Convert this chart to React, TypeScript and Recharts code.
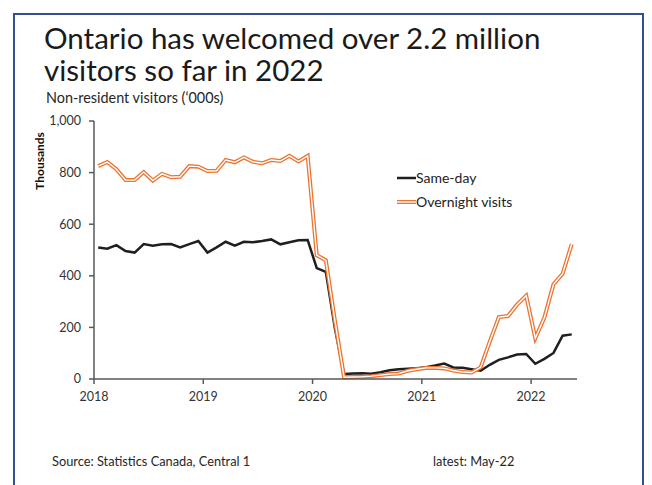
import React from 'react';
import { LineChart, Line, XAxis, YAxis } from 'recharts';

// Monthly non-resident visitors to Ontario ('000s), Jan 2018 - May 2022
const startYear = 2018;
const sameDay = [
  510, 505, 519, 496, 490, 523, 517, 522, 523, 510, 523, 535,
  490, 510, 532, 517, 532, 530, 535, 541, 522, 530, 538, 539,
  430, 415, 195, 19, 21, 22, 20, 26, 34, 38, 40, 42,
  46, 52, 60, 45, 44, 38, 32, 55, 74, 84, 95, 97,
  59, 78, 101, 168, 173,
];
const overnight = [
  825, 841, 813, 771, 771, 802, 769, 795, 782, 784, 825, 823,
  806, 807, 849, 840, 859, 842, 836, 849, 845, 865, 843, 865,
  480, 460, 225, 7, 8, 9, 11, 15, 19, 21, 32, 38,
  43, 43, 41, 33, 27, 25, 45, 145, 240, 244, 288, 323,
  158, 238, 367, 408, 523,
];
const yearTicks = [2018, 2019, 2020, 2021, 2022];
const valueTicks = [0, 200, 400, 600, 800, 1000];
const seriesNames = ['Same-day', 'Overnight visits'];

const data = sameDay.map((v, i) => ({
  t: startYear + i / 12 + 14 / 365,
  sameDay: v,
  overnight: overnight[i],
}));

const FONT = 'Lato, "Liberation Sans", sans-serif';
const ORANGE = '#EC7430';
const BLACK = '#1f1f1f';
const AXIS = '#595959';

export default function App() {
  return (
    <div style={{ position: 'absolute', left: 0, top: 0, width: 652, height: 485, background: '#fff', overflow: 'hidden' }}>
      <div style={{ position: 'absolute', left: 13, top: 13, width: 627, height: 500, border: '2.5px solid #2F5191' }} />
      <div style={{ position: 'absolute', left: 44, top: 23, fontFamily: FONT, fontSize: 29.5, lineHeight: '29px', color: '#1a1a1a', whiteSpace: 'nowrap' }}>
        <div style={{ height: 32 }}>Ontario has welcomed over 2.2 million</div>
        <div style={{ height: 29 }}>visitors so far in 2022</div>
      </div>
      <div style={{ position: 'absolute', left: 46, top: 90, fontFamily: FONT, fontSize: 14.4, lineHeight: '15px', color: '#262626', whiteSpace: 'nowrap' }}>
        Non-resident visitors (‘000s)
      </div>
      <div style={{ position: 'absolute', left: 2, top: 154, width: 76, textAlign: 'center', transform: 'rotate(-90deg)', fontFamily: FONT, fontSize: 12, fontWeight: 700, color: '#111', lineHeight: '14px' }}>
        Thousands
      </div>
      <div style={{ position: 'absolute', left: 0, top: 0 }}>
        <LineChart width={652} height={485} data={data} margin={{ top: 121, right: 75, bottom: 76, left: 34 }}>
          <XAxis
            dataKey="t"
            type="number"
            domain={[2018, 2022.42]}
            ticks={yearTicks}
            tickFormatter={(v: number) => String(Math.round(v))}
            allowDataOverflow
            height={30}
            stroke={AXIS}
            strokeWidth={1.5}
            tickSize={5}
            tickMargin={8}
            tick={{ fill: '#333', fontSize: 12.5, fontFamily: FONT }}
          />
          <YAxis
            type="number"
            domain={[0, 1000]}
            ticks={valueTicks}
            tickFormatter={(v: number) => v.toLocaleString('en-US')}
            width={60}
            stroke={AXIS}
            strokeWidth={1.5}
            tickSize={5}
            tickMargin={8}
            tick={{ fill: '#333', fontSize: 12.5, fontFamily: FONT }}
          />
          <Line dataKey="sameDay" name={seriesNames[0]} stroke={BLACK} strokeWidth={2.5} dot={false} isAnimationActive={false} />
          <Line dataKey="overnight" name={seriesNames[1]} stroke={ORANGE} strokeWidth={4} dot={false} isAnimationActive={false} />
          <Line dataKey="overnight" name="overnight-inner" stroke="#ffffff" strokeWidth={1.4} dot={false} isAnimationActive={false} />
        </LineChart>
      </div>
      <div style={{ position: 'absolute', left: 397, top: 167, fontFamily: FONT, fontSize: 14, color: '#222' }}>
        <div style={{ display: 'flex', alignItems: 'center', height: 21 }}>
          <svg width={19} height={6}>
            <line x1={0} y1={3} x2={19} y2={3} stroke={BLACK} strokeWidth={2.5} />
          </svg>
          <span>{seriesNames[0]}</span>
        </div>
        <div style={{ display: 'flex', alignItems: 'center', height: 21, marginTop: 3 }}>
          <svg width={19} height={6}>
            <line x1={0} y1={3} x2={19} y2={3} stroke={ORANGE} strokeWidth={4} />
            <line x1={0} y1={3} x2={19} y2={3} stroke="#fff" strokeWidth={1.4} />
          </svg>
          <span>{seriesNames[1]}</span>
        </div>
      </div>
      <div style={{ position: 'absolute', left: 52, top: 453, fontFamily: FONT, fontSize: 12.8, color: '#262626', whiteSpace: 'nowrap' }}>
        Source: Statistics Canada, Central 1
      </div>
      <div style={{ position: 'absolute', left: 433, top: 453, fontFamily: FONT, fontSize: 12.8, color: '#262626', whiteSpace: 'nowrap' }}>
        latest: May-22
      </div>
    </div>
  );
}
